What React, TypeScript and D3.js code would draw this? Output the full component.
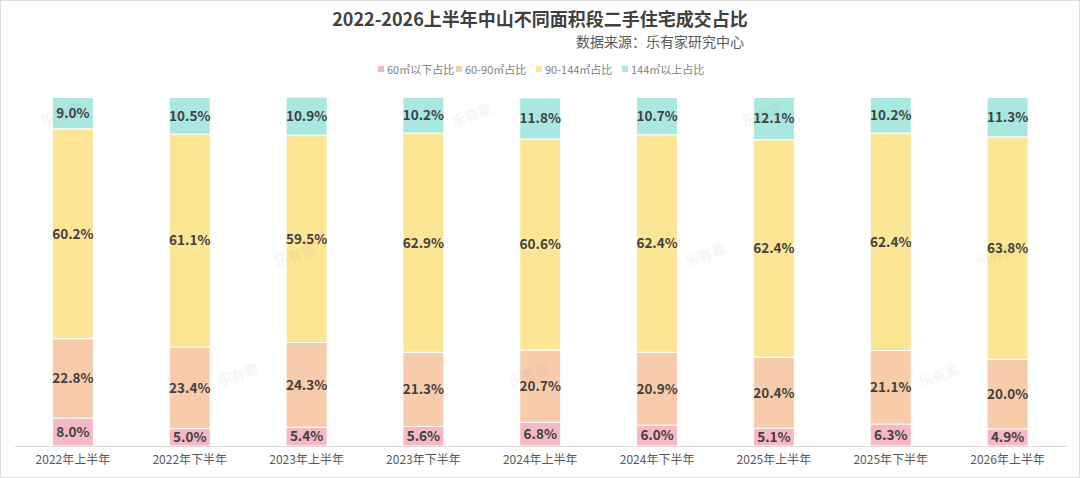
import * as d3 from 'd3';
import React, { useEffect, useRef } from 'react';

const categories = [
   '2022年上半年',
   '2022年下半年',
   '2023年上半年',
   '2023年下半年',
   '2024年上半年',
   '2024年下半年',
   '2025年上半年',
   '2025年下半年',
   '2026年上半年',
];

const seriesNames = ['60㎡以下占比', '60-90㎡占比', '90-144㎡占比', '144㎡以上占比'];
const below60 = [8.0, 5.0, 5.4, 5.6, 6.8, 6.0, 5.1, 6.3, 4.9];
const from60to90 = [22.8, 23.4, 24.3, 21.3, 20.7, 20.9, 20.4, 21.1, 20.0];
const from90to144 = [60.2, 61.1, 59.5, 62.9, 60.6, 62.4, 62.4, 62.4, 63.8];
const above144 = [9.0, 10.5, 10.9, 10.2, 11.8, 10.7, 12.1, 10.2, 11.3];
const colors = ['#F5B8C4', '#F8CCAA', '#FDE596', '#A9E8E1'];

const WIDTH = 1080;
const HEIGHT = 478;

const App = () => {
   const svgRef = useRef<SVGSVGElement | null>(null);

   useEffect(() => {
      document.body.style.margin = '0';
      const svgEl = svgRef.current;
      if (!svgEl) {
         return;
      }
      const svg = d3.select(svgEl);
      svg.selectAll('*').remove();

      const font = '"Noto Sans CJK SC", "Noto Sans", sans-serif';
      const margin = { top: 97.5, right: 14, bottom: 32, left: 14.5 };
      const innerWidth = WIDTH - margin.left - margin.right;
      const innerHeight = HEIGHT - margin.top - margin.bottom;

      // frame
      svg.append('rect')
         .attr('x', 0.5)
         .attr('y', 0.5)
         .attr('width', WIDTH - 1)
         .attr('height', HEIGHT - 1)
         .attr('fill', '#fff')
         .attr('stroke', '#dcdcdc');

      // title
      svg.append('text')
         .attr('x', 540)
         .attr('y', 26)
         .attr('text-anchor', 'middle')
         .attr('font-family', font)
         .attr('font-weight', 'bold')
         .attr('font-size', 18)
         .attr('fill', '#404040')
         .text('2022-2026上半年中山不同面积段二手住宅成交占比');

      svg.append('text')
         .attr('x', 744)
         .attr('y', 46.5)
         .attr('text-anchor', 'end')
         .attr('font-family', font)
         .attr('font-size', 14)
         .attr('fill', '#595959')
         .text('数据来源：乐有家研究中心');

      // legend
      const legendWidths = [78, 80, 86, 84];
      const legendTotal = d3.sum(legendWidths);
      let lx = 540 - legendTotal / 2 + 2;
      seriesNames.forEach((name, i) => {
         svg.append('rect')
            .attr('x', lx)
            .attr('y', 66)
            .attr('width', 6)
            .attr('height', 6)
            .attr('fill', colors[i]);
         svg.append('text')
            .attr('x', lx + 9)
            .attr('y', 73.5)
            .attr('font-family', font)
            .attr('font-size', 11)
            .attr('fill', '#7f7f7f')
            .text(name);
         lx += legendWidths[i];
      });

      const g = svg.append('g').attr('transform', `translate(${margin.left},${margin.top})`);

      const x = d3.scaleBand<string>().domain(categories).range([0, innerWidth]).paddingInner(0.649).paddingOuter(0.3245);
      const y = d3.scaleLinear().domain([0, 100]).range([innerHeight, 0]);

      const rows = categories.map((c, i) => ({
         category: c,
         s0: below60[i],
         s1: from60to90[i],
         s2: from90to144[i],
         s3: above144[i],
      }));
      const stack = d3.stack<(typeof rows)[number]>().keys(['s0', 's1', 's2', 's3']);
      const layers = stack(rows);

      // faint watermarks
      const wm = svg.append('g').attr('opacity', 0.07);
      categories.forEach((c, i) => {
         const cx = margin.left + (x(c) ?? 0) + x.bandwidth() / 2 + (i % 2 === 0 ? -10 : 50);
         [120, 260, 380].forEach((yy, j) => {
            if ((i + j) % 3 === 0) {
               wm.append('text')
                  .attr('transform', `translate(${cx},${yy}) rotate(-20)`)
                  .attr('text-anchor', 'middle')
                  .attr('font-family', font)
                  .attr('font-weight', 'bold')
                  .attr('font-size', 14)
                  .attr('fill', '#666')
                  .text('乐有家');
            }
         });
      });

      layers.forEach((layer, li) => {
         layer.forEach((d) => {
            const bx = x(d.data.category) ?? 0;
            const y0 = y(d[0]);
            const y1 = y(d[1]);
            g.append('rect')
               .attr('x', bx)
               .attr('y', y1)
               .attr('width', x.bandwidth())
               .attr('height', y0 - y1)
               .attr('fill', colors[li])
               .attr('stroke', '#fff')
               .attr('stroke-width', 1);
            g.append('text')
               .attr('x', bx + x.bandwidth() / 2)
               .attr('y', (y0 + y1) / 2)
               .attr('dy', '0.36em')
               .attr('text-anchor', 'middle')
               .attr('font-family', font)
               .attr('font-weight', 'bold')
               .attr('font-size', 13.5)
               .attr('fill', '#404040')
               .text(`${(d[1] - d[0]).toFixed(1)}%`);
         });
      });

      // x axis
      const axis = g.append('g')
         .attr('transform', `translate(0,${innerHeight})`)
         .call(d3.axisBottom(x).tickSize(0).tickPadding(9));
      axis.select('.domain').attr('stroke', '#d9d9d9');
      axis.selectAll('text')
         .attr('font-family', font)
         .attr('font-size', 12)
         .attr('fill', '#595959');
   }, []);

   return <svg ref={svgRef} width={WIDTH} height={HEIGHT} style={{ display: 'block' }} />;
};

export default App;
